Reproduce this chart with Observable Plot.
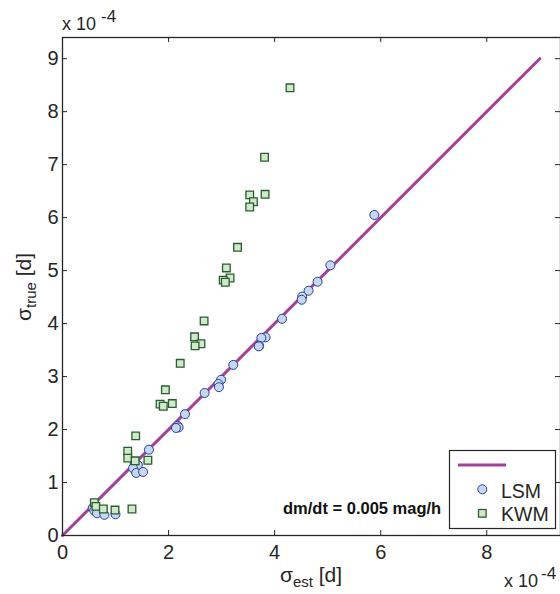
<!DOCTYPE html>
<html>
<head>
<meta charset="utf-8">
<script src="https://cdn.jsdelivr.net/npm/d3@7"></script>
<script src="https://cdn.jsdelivr.net/npm/@observablehq/plot@0.6"></script>
<style>
  html, body { margin: 0; padding: 0; background: #fff; }
  #chart svg { display: block; }
</style>
</head>
<body>
<div id="chart"></div>
<script>
// values in units of 1e-4 d
const lsmEst  = [5.88, 5.05, 4.81, 4.64, 4.52, 4.51, 4.14, 3.83, 3.75, 3.71, 3.70, 3.22, 2.99, 2.94, 2.95, 2.68, 2.31, 2.17, 2.19, 2.14, 1.63, 1.36, 1.42, 1.33, 1.39, 1.52, 0.57, 0.60, 0.65, 0.79, 1.00];
const lsmTrue = [6.05, 5.10, 4.79, 4.62, 4.51, 4.45, 4.09, 3.74, 3.73, 3.58, 3.57, 3.22, 2.94, 2.86, 2.80, 2.69, 2.29, 2.07, 2.04, 2.03, 1.62, 1.35, 1.33, 1.27, 1.18, 1.20, 0.52, 0.47, 0.42, 0.39, 0.40];
const kwmEst  = [4.29, 3.81, 3.82, 3.53, 3.60, 3.53, 3.30, 3.09, 3.16, 3.03, 3.07, 2.67, 2.49, 2.61, 2.50, 2.22, 1.94, 1.84, 1.90, 2.07, 1.38, 1.23, 1.23, 1.37, 1.61, 0.60, 0.63, 0.77, 0.99, 1.31];
const kwmTrue = [8.45, 7.14, 6.44, 6.43, 6.30, 6.20, 5.44, 5.05, 4.86, 4.82, 4.78, 4.05, 3.75, 3.62, 3.58, 3.25, 2.75, 2.48, 2.44, 2.49, 1.88, 1.59, 1.46, 1.41, 1.42, 0.62, 0.55, 0.50, 0.48, 0.50];
const refX = [0, 9];
const refY = [0, 9];
const xTicks = [0, 2, 4, 6, 8];
const yTicks = [0, 1, 2, 3, 4, 5, 6, 7, 8, 9];
const seriesNames = ["", "LSM", "KWM"];
const annotation = "dm/dt = 0.005 mag/h";
const xLabel = ["σ", "est", " [d]"];
const yLabel = ["σ", "true", " [d]"];
const multiplier = ["x 10", "-4"];

const lsm = lsmEst.map((x, i) => ({x, y: lsmTrue[i]}));
const kwm = kwmEst.map((x, i) => ({x, y: kwmTrue[i]}));
const ref = refX.map((x, i) => ({x, y: refY[i]}));

const W = 560, H = 594, mL = 62, mR = 0, mT = 37, mB = 59;
const innerW = W - mL - mR, innerH = H - mT - mB;
const axisColor = "#262626";
const lineColor = "#a3409b";
const lsmFill = "#c6d8f1", lsmStroke = "#2c3f98";
const kwmFill = "#d2e9c9", kwmStroke = "#275e33";
const ff = "'Liberation Sans', Arial, Helvetica, sans-serif";

const chart = Plot.plot({
  width: W, height: H,
  marginLeft: mL, marginRight: mR, marginTop: mT, marginBottom: mB,
  x: {domain: [0, 9.39]},
  y: {domain: [0, 9.40]},
  style: {fontFamily: ff, fontSize: "20px", background: "#fff", color: axisColor},
  marks: [
    Plot.line(ref, {x: "x", y: "y", stroke: lineColor, strokeWidth: 3}),
    Plot.dot(lsm, {x: "x", y: "y", r: 4.5, fill: lsmFill, stroke: lsmStroke, strokeWidth: 1}),
    Plot.dot(kwm, {x: "x", y: "y", symbol: "square", r: 4.3, fill: kwmFill, stroke: kwmStroke, strokeWidth: 1.3}),
    Plot.frame({stroke: axisColor, strokeWidth: 1.3}),
    Plot.ruleX(xTicks, {stroke: axisColor, insetTop: innerH - 5}),
    Plot.ruleX(xTicks, {stroke: axisColor, insetBottom: innerH - 5}),
    Plot.ruleY(yTicks, {stroke: axisColor, insetRight: innerW - 5}),
    Plot.ruleY(yTicks, {stroke: axisColor, insetLeft: innerW - 5}),
    Plot.axisX(xTicks, {tickSize: 0, tickPadding: 9, fontSize: 20, label: null, tickFormat: d3.format("d"), fill: axisColor}),
    Plot.axisY(yTicks, {tickSize: 0, tickPadding: 4, fontSize: 20, label: null, tickFormat: d3.format("d"), fill: axisColor})
  ]
});
document.getElementById("chart").appendChild(chart);

const svg = d3.select(chart);

// multipliers
function mult(x, y, gap) {
  const t = svg.append("text").attr("x", x).attr("y", y).attr("text-anchor", "start")
    .attr("font-family", ff).attr("font-size", 18).attr("fill", axisColor);
  t.append("tspan").text(multiplier[0]);
  t.append("tspan").attr("font-size", 17).attr("dy", -8).attr("dx", gap).text(multiplier[1]);
}
mult(62, 30, 5);
mult(504, 587, 3);

// axis labels
const xl = svg.append("text").attr("x", 311).attr("y", 582).attr("text-anchor", "middle")
  .attr("font-family", ff).attr("font-size", 21).attr("fill", axisColor);
xl.append("tspan").text(xLabel[0]);
xl.append("tspan").attr("font-size", 15).attr("dy", 5).text(xLabel[1]);
xl.append("tspan").attr("dy", -5).style("white-space", "pre").text(xLabel[2]);

const yl = svg.append("text").attr("transform", "translate(31,287) rotate(-90)").attr("text-anchor", "middle")
  .attr("font-family", ff).attr("font-size", 21).attr("fill", axisColor);
yl.append("tspan").text(yLabel[0]);
yl.append("tspan").attr("font-size", 15).attr("dy", 5).text(yLabel[1]);
yl.append("tspan").attr("dy", -5).style("white-space", "pre").text(yLabel[2]);

// annotation
svg.append("text").attr("x", 283).attr("y", 514).attr("text-anchor", "start").attr("font-family", ff)
  .attr("font-size", 16.5).attr("font-weight", "bold").attr("fill", "#111").text(annotation);

// legend
const lg = svg.append("g").attr("text-anchor", "start");
lg.append("rect").attr("x", 449.5).attr("y", 450.5).attr("width", 106).attr("height", 78)
  .attr("fill", "#fff").attr("stroke", axisColor).attr("stroke-width", 1.2);
lg.append("line").attr("x1", 458).attr("x2", 506).attr("y1", 465).attr("y2", 465)
  .attr("stroke", lineColor).attr("stroke-width", 3);
lg.append("circle").attr("cx", 482.3).attr("cy", 489.3).attr("r", 4.5)
  .attr("fill", lsmFill).attr("stroke", lsmStroke);
lg.append("rect").attr("x", 478.5).attr("y", 509.5).attr("width", 7.6).attr("height", 7.6)
  .attr("fill", kwmFill).attr("stroke", kwmStroke).attr("stroke-width", 1.3);
lg.append("text").attr("x", 501).attr("y", 497.5).attr("font-family", ff).attr("font-size", 19.5)
  .attr("fill", axisColor).text(seriesNames[1]);
lg.append("text").attr("x", 501).attr("y", 521).attr("font-family", ff).attr("font-size", 19.5)
  .attr("fill", axisColor).text(seriesNames[2]);
</script>
</body>
</html>
